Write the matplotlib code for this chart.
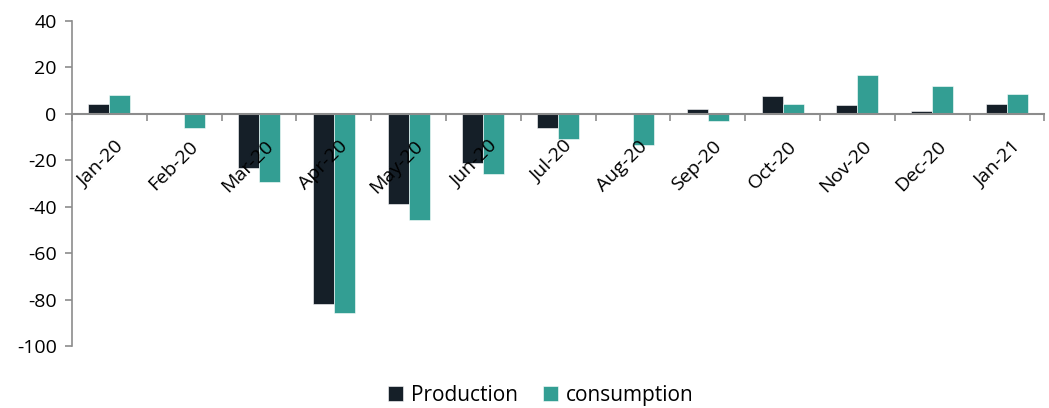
import matplotlib
matplotlib.use("Agg")
import matplotlib.pyplot as plt
import numpy as np

categories = ["Jan-20", "Feb-20", "Mar-20", "Apr-20", "May-20", "Jun-20", "Jul-20",
              "Aug-20", "Sep-20", "Oct-20", "Nov-20", "Dec-20", "Jan-21"]
production = [4.2, 0.0, -23.3, -82.0, -38.9, -21.3, -6.2, 0.0, 2.0, 7.5, 3.9, 1.1, 4.2]
consumption = [7.9, -6.3, -29.2, -85.9, -45.8, -26.0, -10.8, -13.4, -3.0, 4.2, 16.8, 11.9, 8.6]
yticks = [40, 20, 0, -20, -40, -60, -80, -100]

plt.rcParams['font.family'] = ['Open Sans', 'DejaVu Sans']

fig = plt.figure(figsize=(10.49, 4.08), dpi=100)
ax = fig.add_axes([0.0686, 0.152, 0.927, 0.797])

x = np.arange(len(categories))
w = 0.28
dark = "#151F28"
teal = "#339E93"
ax.bar(x - w/2, production, w, color=dark, edgecolor="white", linewidth=0.4, label="Production")
ax.bar(x + w/2, consumption, w, color=teal, edgecolor="white", linewidth=0.4, label="consumption")

ax.set_ylim(-100, 40)
ax.set_xlim(-0.5, len(categories) - 0.5)
ax.set_yticks(yticks)
ax.set_yticklabels([str(v) for v in yticks], fontsize=14)

gray = "#8C8C8C"
for s in ["top", "right"]:
    ax.spines[s].set_visible(False)
ax.spines["left"].set_color(gray)
ax.spines["left"].set_linewidth(1.2)
ax.spines["bottom"].set_position(("data", 0))
ax.spines["bottom"].set_color(gray)
ax.spines["bottom"].set_linewidth(1.5)

ax.set_xticks(np.arange(len(categories) + 1) - 0.5, minor=False)
ax.set_xticklabels([])
ax.tick_params(axis="x", direction="out", length=5, color=gray, width=1.2)
ax.tick_params(axis="y", direction="out", length=5, color=gray, width=1.2, pad=6)

for i, c in enumerate(categories):
    ax.annotate(c, xy=(i, 0), xycoords="data", xytext=(3.5, -17), textcoords="offset points",
                rotation=45, ha="right", va="top", fontsize=14, rotation_mode="anchor")

fig.legend(loc="lower center", bbox_to_anchor=(0.516, -0.04), ncol=2, frameon=False,
           fontsize=15, handlelength=0.7, handleheight=0.7, columnspacing=1.2, handletextpad=0.4)

fig.savefig("out.png", dpi=100)
